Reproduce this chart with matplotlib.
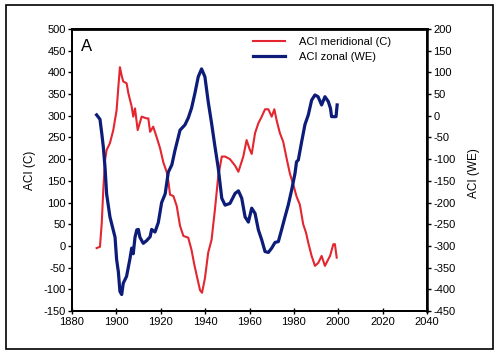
import matplotlib
matplotlib.use("Agg")
import matplotlib.pyplot as plt
from matplotlib.patches import Rectangle

plt.rcParams['font.family'] = ['Liberation Sans', 'DejaVu Sans']
plt.rcParams['axes.unicode_minus'] = False

# ACI meridional (C) - left axis
red_years = [1891.1, 1892.6, 1893.4, 1894.1, 1894.9, 1895.6, 1897.1, 1898.6, 1900.1, 1900.9,
             1901.6, 1902.4, 1903.1, 1904.6, 1905.4, 1906.9, 1907.6, 1908.4, 1909.6, 1911.4,
             1913.6, 1914.4, 1915.2, 1916.6, 1918.2, 1919.7, 1921.2, 1922.7, 1923.4, 1924.2,
             1925.7, 1927.2, 1928.7, 1930.2, 1932.4, 1933.9, 1935.0, 1936.2, 1937.7, 1938.6,
             1939.9, 1941.4, 1942.9, 1944.4, 1945.9, 1947.5, 1949.0, 1951.2, 1953.5, 1955.0,
             1957.2, 1958.7, 1960.2, 1961.0, 1962.5, 1964.0, 1965.5, 1967.0, 1968.5, 1970.0,
             1971.2, 1972.2, 1973.7, 1975.2, 1976.8, 1978.2, 1979.7, 1981.2, 1982.7, 1984.2,
             1985.5, 1986.5, 1988.0, 1989.5, 1991.0, 1992.5, 1994.0, 1996.3, 1997.8, 1998.5,
             1999.3]
red_values = [-5, -2, 52, 129, 198, 221, 237, 267, 313, 367,
              412, 392, 379, 375, 352, 321, 298, 317, 267, 298,
              294, 294, 263, 275, 250, 225, 192, 170, 150, 118,
              115, 92, 46, 23, 19, -10, -40, -68, -102, -108,
              -75, -15, 14, 83, 160, 206, 206, 200, 185, 171,
              206, 244, 221, 212, 260, 283, 298, 315, 315, 298,
              315, 290, 260, 240, 200, 167, 142, 114, 95, 50,
              30, 7, -23, -46, -39, -23, -46, -23, 4, 4,
              -27]

# ACI zonal (WE) - right axis
blue_years = [1891.1, 1892.6, 1893.4, 1894.1, 1894.9, 1895.6, 1897.1, 1899.4, 1900.1, 1900.9,
              1901.6, 1902.4, 1903.1, 1904.6, 1906.1, 1906.9, 1907.6, 1908.4, 1909.2, 1909.9,
              1910.6, 1912.1, 1913.6, 1915.2, 1915.9, 1917.4, 1918.9, 1920.4, 1922.0, 1923.4,
              1925.0, 1926.4, 1928.7, 1930.9, 1932.4, 1933.9, 1935.4, 1936.9, 1938.4, 1939.9,
              1941.4, 1942.9, 1944.4, 1945.9, 1947.5, 1949.0, 1951.2, 1953.5, 1955.0, 1956.5,
              1958.0, 1959.5, 1961.0, 1962.5, 1964.0, 1965.5, 1967.0, 1968.5, 1970.0, 1971.5,
              1973.0, 1974.5, 1976.0, 1977.5, 1979.0, 1980.5, 1981.2, 1982.0, 1983.5, 1985.0,
              1986.5, 1988.0, 1989.5, 1990.9, 1992.5, 1994.0, 1995.5, 1996.5, 1997.0, 1999.0,
              1999.5]
blue_values = [2, -8, -40, -71, -120, -180, -233, -280, -331, -360,
               -405, -412, -386, -370, -330, -305, -318, -280, -263, -262,
               -280, -294, -288, -279, -262, -268, -246, -200, -180, -130,
               -113, -80, -33, -21, -5, 18, 52, 90, 108, 90,
               32, -17, -70, -120, -190, -206, -202, -179, -173, -190,
               -233, -245, -213, -225, -263, -286, -313, -315, -305, -292,
               -290, -262, -233, -205, -171, -133, -106, -102, -60, -20,
               2, 36, 48, 44, 25, 44, 33, 17, -2, -2,
               25]

x_ticks = [1880, 1900, 1920, 1940, 1960, 1980, 2000, 2020, 2040]
left_ticks = list(range(-150, 501, 50))
right_ticks = list(range(-450, 201, 50))

RED = '#e3262f'
BLUE = '#0c1c78'

fig = plt.figure(figsize=(5.0, 3.56), dpi=100)
ax = fig.add_axes([0.144, 0.1264, 0.710, 0.7921])
ax2 = ax.twinx()

l1, = ax.plot(red_years, red_values, color=RED, lw=1.5, label='ACI meridional (C)')
l2, = ax2.plot(blue_years, blue_values, color=BLUE, lw=2.3, label='ACI zonal (WE)')

ax.set_xlim(1880, 2040)
ax.set_ylim(-150, 500)
ax2.set_ylim(-450, 200)
ax.set_xticks(x_ticks)
ax.set_yticks(left_ticks)
ax2.set_yticks(right_ticks)

for a in (ax, ax2):
    for s in a.spines.values():
        s.set_linewidth(1.3)
        s.set_color('black')
ax2.spines['top'].set_linewidth(2.0)
ax2.spines['right'].set_linewidth(1.8)

ax.tick_params(axis='x', direction='inout', length=5, width=1.0, labelsize=8, pad=2)
ax.tick_params(axis='y', direction='out', length=3, width=1.0, labelsize=8, pad=1.5)
ax2.tick_params(axis='y', direction='out', length=3, width=1.0, labelsize=8, pad=1.5)

ax.set_ylabel('ACI (C)', fontsize=8.5)
ax2.set_ylabel('ACI (WE)', fontsize=8.5)
ax.yaxis.label.set_va('center')
ax2.yaxis.label.set_va('center')
ax.yaxis.set_label_coords(-0.118, 0.5)
ax2.yaxis.set_label_coords(1.132, 0.49)

ax.text(0.041, 0.937, 'A', transform=ax.transAxes, fontsize=12, ha='center', va='center')

ax2.legend(handles=[l1, l2], loc='upper left', bbox_to_anchor=(0.506, 0.895),
           bbox_transform=fig.transFigure, frameon=False, fontsize=8,
           handlelength=2.9, handletextpad=1.2, borderpad=0, borderaxespad=0,
           labelspacing=0.45)

fig.patches.append(Rectangle((0.011, 0.0197), 0.974, 0.965, transform=fig.transFigure,
                             fill=False, edgecolor='black', linewidth=1.2))

fig.savefig('out.png', dpi=100)
